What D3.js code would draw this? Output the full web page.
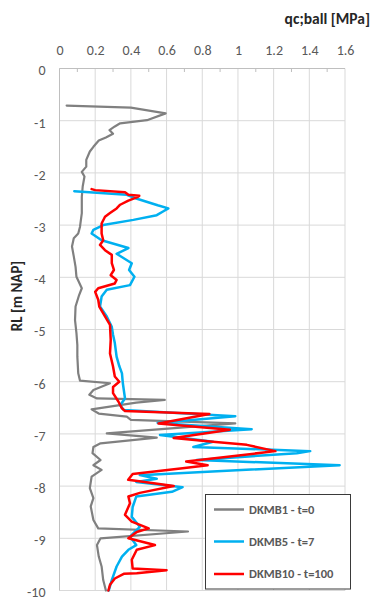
<!DOCTYPE html>
<html><head><meta charset="utf-8">
<script src="https://cdn.jsdelivr.net/npm/d3@7"></script>
<style>
html,body{margin:0;padding:0;background:#fff;}
svg{display:block;font-family:Carlito,Lato,"Liberation Sans",sans-serif;}
</style></head>
<body><svg id="c" width="373" height="600"></svg>
<script>
const xTicks = [0,0.2,0.4,0.6,0.8,1,1.2,1.4,1.6];
const xMinor = [0.1,0.3,0.5,0.7,0.9,1.1,1.3,1.5];
const yTicks = [0,-1,-2,-3,-4,-5,-6,-7,-8,-9,-10];
const seriesNames = ["DKMB1 - t=0","DKMB5 - t=7","DKMB10 - t=100"];
const seriesColors = ["#808080","#00b0f0","#ff0000"];
const xTitle = "qc;ball [MPa]";
const yTitle = "RL [m NAP]";

const dkmb1RL = [-0.71,-0.75,-0.86,-0.99,-1.05,-1.11,-1.18,-1.25,-1.32,-1.38,-1.50,-1.59,-1.75,-1.88,-1.98,-2.07,-2.26,-2.46,-2.77,-3.03,-3.16,-3.25,-3.41,-3.60,-3.80,-3.99,-4.21,-4.34,-4.56,-4.82,-5.07,-5.30,-5.52,-5.84,-5.98,-6.03,-6.16,-6.25,-6.32,-6.35,-6.40,-6.53,-6.61,-6.67,-6.73,-6.80,-6.99,-7.07,-7.18,-7.25,-7.37,-7.50,-7.60,-7.69,-7.82,-8.04,-8.23,-8.39,-8.65,-8.81,-8.87,-9.00,-9.13,-9.35,-9.54,-9.80,-10.0];
const dkmb1QC = [0.04,0.40,0.595,0.49,0.34,0.31,0.28,0.30,0.26,0.22,0.19,0.17,0.15,0.15,0.125,0.14,0.13,0.125,0.125,0.115,0.105,0.08,0.07,0.08,0.09,0.095,0.125,0.11,0.09,0.087,0.095,0.10,0.10,0.105,0.115,0.283,0.19,0.167,0.21,0.59,0.43,0.18,0.22,0.377,0.40,0.985,0.265,0.545,0.23,0.19,0.185,0.23,0.19,0.236,0.18,0.17,0.19,0.175,0.19,0.217,0.72,0.23,0.21,0.22,0.236,0.245,0.26];

const dkmb5RL = [-2.35,-2.42,-2.49,-2.62,-2.68,-2.74,-2.81,-2.90,-3.00,-3.09,-3.16,-3.29,-3.44,-3.55,-3.73,-3.86,-3.99,-4.15,-4.24,-4.37,-4.56,-4.75,-4.95,-5.10,-5.26,-5.52,-5.70,-5.84,-6.03,-6.32,-6.45,-6.54,-6.66,-6.79,-6.91,-7.02,-7.15,-7.25,-7.33,-7.37,-7.50,-7.60,-7.79,-7.86,-7.92,-8.02,-8.11,-8.20,-8.40,-8.59,-8.78,-8.97,-9.13,-9.22,-9.35,-9.54,-9.80,-10.0];
const dkmb5QC = [0.083,0.377,0.43,0.55,0.61,0.58,0.545,0.414,0.245,0.19,0.18,0.236,0.386,0.32,0.405,0.39,0.42,0.395,0.265,0.236,0.227,0.265,0.293,0.30,0.31,0.32,0.335,0.35,0.355,0.367,0.34,0.36,0.985,0.55,1.077,0.563,0.86,0.75,1.405,1.33,0.77,1.57,0.45,0.545,0.43,0.69,0.63,0.43,0.41,0.405,0.45,0.395,0.43,0.386,0.35,0.32,0.293,0.276];

const dkmb10RL = [-2.31,-2.33,-2.37,-2.42,-2.44,-2.47,-2.53,-2.61,-2.68,-2.77,-2.84,-2.97,-3.16,-3.29,-3.38,-3.48,-3.57,-3.73,-3.86,-3.96,-4.05,-4.12,-4.21,-4.28,-4.43,-4.56,-4.75,-4.91,-5.20,-5.46,-5.71,-5.90,-6.00,-6.10,-6.22,-6.38,-6.51,-6.56,-6.62,-6.80,-6.92,-7.08,-7.15,-7.21,-7.33,-7.53,-7.60,-7.66,-7.77,-7.88,-8.00,-8.13,-8.20,-8.33,-8.55,-8.68,-8.81,-8.88,-9.00,-9.13,-9.22,-9.41,-9.58,-9.61,-9.67,-9.68,-9.77,-9.89,-10.0];
const dkmb10QC = [0.18,0.20,0.367,0.386,0.447,0.433,0.386,0.34,0.32,0.283,0.255,0.236,0.236,0.245,0.227,0.255,0.293,0.293,0.305,0.287,0.32,0.31,0.217,0.20,0.217,0.223,0.255,0.283,0.287,0.283,0.30,0.31,0.335,0.30,0.30,0.33,0.35,0.367,0.84,0.555,0.955,0.64,0.86,1.05,1.21,0.71,0.83,0.69,0.41,0.385,0.64,0.45,0.386,0.395,0.367,0.405,0.50,0.433,0.386,0.535,0.433,0.405,0.41,0.60,0.433,0.36,0.31,0.283,0.274];

const svg = d3.select("#c");
const L = 59.5, R = 345, T = 68.5, B = 590.5;
const x = d3.scaleLinear().domain([0,1.6]).range([L,R]);
const y = d3.scaleLinear().domain([0,-10]).range([T,B]);
const FONT = "Carlito,Lato,sans-serif";

// gridlines
svg.append("g").selectAll("line").data(xTicks).join("line")
  .attr("x1",d=>x(d)).attr("x2",d=>x(d)).attr("y1",T).attr("y2",B)
  .attr("stroke","#d9d9d9").attr("stroke-width",1);
svg.append("g").selectAll("line").data(yTicks).join("line")
  .attr("x1",L).attr("x2",R).attr("y1",d=>y(d)).attr("y2",d=>y(d))
  .attr("stroke","#d9d9d9").attr("stroke-width",1);

// axis lines
svg.append("line").attr("x1",L).attr("x2",R).attr("y1",T).attr("y2",T).attr("stroke","#bfbfbf");
svg.append("line").attr("x1",L).attr("x2",L).attr("y1",T).attr("y2",B).attr("stroke","#bfbfbf");
svg.append("g").selectAll("line").data(xMinor).join("line")
  .attr("x1",d=>x(d)).attr("x2",d=>x(d)).attr("y1",T).attr("y2",T+3.5)
  .attr("stroke","#bfbfbf");

// tick labels
const xa = svg.append("g").attr("transform",`translate(0,${T-14})`)
  .call(d3.axisTop(x).tickValues(xTicks).tickSize(0).tickPadding(0).tickFormat(d=>String(d)));
xa.select(".domain").remove();
xa.selectAll("text").attr("fill","#595959").attr("font-size","14px").attr("font-family",FONT);

const ya = svg.append("g").attr("transform",`translate(${L-14},0)`)
  .call(d3.axisLeft(y).tickValues(yTicks).tickSize(0).tickPadding(0).tickFormat(d=>String(d)));
ya.select(".domain").remove();
ya.selectAll("text").attr("fill","#595959").attr("font-size","14px").attr("font-family",FONT).attr("dy","0.45em");

// titles
svg.append("text").attr("x",370).attr("y",24).attr("text-anchor","end")
  .attr("font-weight","bold").attr("font-size","15.5px").attr("fill","#262626").text(xTitle);
svg.append("text").attr("transform","translate(22,296) rotate(-90)").attr("text-anchor","middle")
  .attr("font-weight","bold").attr("font-size","15px").attr("fill","#262626").text(yTitle);

// lines
const series = [
  {rl:dkmb1RL, qc:dkmb1QC, w:2.2},
  {rl:dkmb5RL, qc:dkmb5QC, w:2.5},
  {rl:dkmb10RL, qc:dkmb10QC, w:2.5}
];
const line = d3.line().x(d=>x(d[1])).y(d=>y(d[0]));
series.forEach((s,i)=>{
  const pts = s.rl.map((r,k)=>[r,s.qc[k]]);
  svg.append("path").datum(pts).attr("d",line).attr("fill","none")
    .attr("stroke",seriesColors[i]).attr("stroke-width",s.w)
    .attr("stroke-linejoin","round").attr("stroke-linecap","round");
});

// legend
const lg = svg.append("g");
lg.append("rect").attr("x",205.5).attr("y",494.5).attr("width",145).attr("height",94.5)
  .attr("fill","#fff").attr("stroke","#3a3a3a").attr("stroke-width",1);
const ly = [509.5,541.5,574];
seriesNames.forEach((n,i)=>{
  lg.append("line").attr("x1",214).attr("x2",244).attr("y1",ly[i]).attr("y2",ly[i])
    .attr("stroke",seriesColors[i]).attr("stroke-width",2.5);
  lg.append("text").attr("x",249).attr("y",ly[i]).attr("dy","0.35em")
    .attr("font-size","12.5px").attr("font-weight","bold").attr("fill","#595959").text(n);
});
</script></body></html>
